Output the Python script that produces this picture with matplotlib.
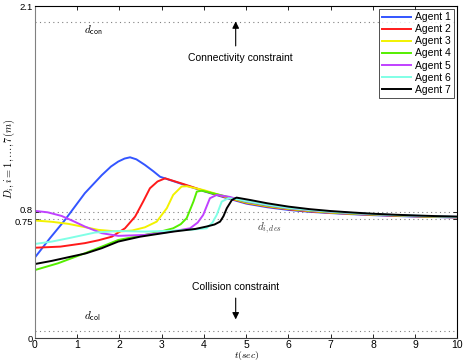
import matplotlib
matplotlib.use("Agg")
import matplotlib.pyplot as plt
import matplotlib.transforms as mtransforms

plt.rcParams['font.family'] = ['Liberation Sans', 'DejaVu Sans']
plt.rcParams['mathtext.fontset'] = 'cm'

names = ["Agent 1", "Agent 2", "Agent 3", "Agent 4", "Agent 5", "Agent 6", "Agent 7"]
colors = ["#3355ff", "#ff1a1a", "#f2f200", "#55ee00", "#c040ff", "#80ffe6", "#000000"]

t1 = [0.0, 0.35, 0.71, 1.18, 1.58, 1.8, 1.97, 2.12, 2.25, 2.4, 2.6, 2.8, 2.96, 3.5, 4.0, 4.5,
      5.0, 5.5, 6.0, 6.5, 7.0, 7.5, 8.0, 8.5, 9.0, 9.5, 10.0]
y1 = [0.51, 0.63, 0.747, 0.916, 1.03, 1.085, 1.116, 1.135, 1.143, 1.13, 1.095, 1.055, 1.02, 0.972, 0.928, 0.888,
      0.850, 0.827, 0.810, 0.798, 0.790, 0.783, 0.777, 0.772, 0.768, 0.765, 0.762]

t2 = [0.0, 0.6, 1.18, 1.5, 1.82, 2.13, 2.37, 2.56, 2.72, 2.9, 3.08, 3.5, 4.0, 4.5,
      5.0, 5.5, 6.0, 6.5, 7.0, 7.5, 8.0, 8.5, 9.0, 9.5, 10.0]
y2 = [0.571, 0.578, 0.60, 0.618, 0.641, 0.694, 0.768, 0.863, 0.947, 0.99, 1.01, 0.975, 0.931, 0.891,
      0.854, 0.831, 0.814, 0.801, 0.792, 0.785, 0.779, 0.774, 0.770, 0.766, 0.763]

t3 = [0.0, 0.4, 0.79, 1.5, 1.97, 2.3, 2.6, 2.88, 3.12, 3.27, 3.47, 3.59, 4.0, 4.5,
      5.0, 5.5, 6.0, 6.5, 7.0, 7.5, 8.0, 8.5, 9.0, 9.5, 10.0]
y3 = [0.743, 0.735, 0.722, 0.684, 0.673, 0.68, 0.70, 0.736, 0.821, 0.905, 0.958, 0.96, 0.935, 0.894,
      0.857, 0.834, 0.817, 0.804, 0.794, 0.787, 0.781, 0.776, 0.771, 0.767, 0.764]

t4 = [0.0, 0.55, 1.18, 1.6, 1.97, 2.6, 3.0, 3.27, 3.45, 3.59, 3.75, 3.83, 3.95, 4.5,
      5.0, 5.5, 6.0, 6.5, 7.0, 7.5, 8.0, 8.5, 9.0, 9.5, 10.0]
y4 = [0.43, 0.473, 0.536, 0.58, 0.62, 0.652, 0.675, 0.694, 0.72, 0.758, 0.863, 0.926, 0.932, 0.897,
      0.860, 0.837, 0.819, 0.806, 0.796, 0.788, 0.782, 0.777, 0.772, 0.768, 0.765]

t5 = [0.0, 0.3, 0.63, 0.9, 1.18, 1.58, 1.97, 2.6, 3.2, 3.67, 3.85, 3.98, 4.14, 4.3, 4.6,
      5.0, 5.5, 6.0, 6.5, 7.0, 7.5, 8.0, 8.5, 9.0, 9.5, 10.0]
y5 = [0.804, 0.795, 0.772, 0.74, 0.705, 0.663, 0.646, 0.652, 0.672, 0.694, 0.73, 0.778, 0.884, 0.905, 0.893,
      0.863, 0.840, 0.821, 0.808, 0.798, 0.790, 0.783, 0.778, 0.773, 0.769, 0.766]

t6 = [0.0, 0.4, 0.79, 1.42, 1.97, 2.6, 3.2, 3.7, 4.06, 4.2, 4.3, 4.42, 4.58, 4.8,
      5.0, 5.5, 6.0, 6.5, 7.0, 7.5, 8.0, 8.5, 9.0, 9.5, 10.0]
y6 = [0.595, 0.61, 0.631, 0.667, 0.677, 0.673, 0.678, 0.685, 0.694, 0.73, 0.778, 0.863, 0.884, 0.878,
      0.866, 0.843, 0.823, 0.810, 0.799, 0.791, 0.784, 0.778, 0.774, 0.770, 0.766]

t7 = [0.0, 0.4, 0.79, 1.2, 1.58, 1.97, 2.49, 3.27, 3.8, 4.06, 4.25, 4.38, 4.46, 4.54, 4.66, 4.77, 5.09,
      5.5, 6.0, 6.5, 7.0, 7.5, 8.0, 8.5, 9.0, 9.5, 10.0]
y7 = [0.468, 0.488, 0.511, 0.535, 0.568, 0.61, 0.641, 0.673, 0.69, 0.705, 0.718, 0.736, 0.77, 0.821, 0.873, 0.888, 0.873,
      0.852, 0.831, 0.815, 0.803, 0.794, 0.786, 0.780, 0.775, 0.771, 0.768]

series_t = [t1, t2, t3, t4, t5, t6, t7]
series_y = [y1, y2, y3, y4, y5, y6, y7]

x_ticks = list(range(0, 11))
y_ticks = [0, 0.75, 0.8, 2.1]
y_tick_labels = ["0", "0.75", "0.8", "2.1"]
d_con = 2.0
d_col = 0.045
d_des_hi = 0.8
d_des_lo = 0.75

fig = plt.figure(figsize=(4.64, 3.63), dpi=100)
ax = fig.add_axes([35 / 464, 25 / 363, 422.5 / 464, 332 / 363])

for tt, yy, c, n in zip(series_t, series_y, colors, names):
    ax.plot(tt, yy, color=c, lw=1.4, label=n)

for yv in [d_con, d_col, d_des_hi, d_des_lo]:
    ax.axhline(yv, color="#808080", lw=0.8, ls=(0, (1, 3)), zorder=0)

ax.set_xlim(0, 10)
ax.set_ylim(0, 2.1)
ax.set_xticks(x_ticks)
ax.set_yticks(y_ticks)
ax.set_yticklabels(y_tick_labels)
ax.tick_params(direction="in", top=True, right=True, labelsize=7.5, length=3, width=0.6, pad=1.5)
ax.tick_params(axis="y", labelsize=6.8)
for s in ax.spines.values():
    s.set_linewidth(0.8)
ax.spines["left"].set_color("#808080")
ax.spines["bottom"].set_color("#404040")

# nudge the two crowded labels apart slightly
ylabels = ax.get_yticklabels()
ylabels[1].set_transform(ylabels[1].get_transform() +
                         mtransforms.ScaledTranslation(0, -1.2 / 72, fig.dpi_scale_trans))
ylabels[2].set_transform(ylabels[2].get_transform() +
                         mtransforms.ScaledTranslation(0, 1.2 / 72, fig.dpi_scale_trans))

ax.text(1.15, 1.93, r"$d_{\mathsf{con}}$", fontsize=8)
ax.text(1.15, 0.12, r"$d_{\mathsf{col}}$", fontsize=8)
ax.text(5.25, 0.68, r"$d_{i,des}$", fontsize=8, color="#404040")

ax.annotate("", xy=(4.75, 2.02), xytext=(4.75, 1.83),
            arrowprops=dict(arrowstyle="-|>", color="black", lw=0.8, mutation_scale=10))
ax.text(4.85, 1.77, "Connectivity constraint", fontsize=7.5, ha="center", va="center")
ax.annotate("", xy=(4.75, 0.1), xytext=(4.75, 0.27),
            arrowprops=dict(arrowstyle="-|>", color="black", lw=0.8, mutation_scale=10))
ax.text(4.75, 0.32, "Collision constraint", fontsize=7.5, ha="center", va="center")

ax.set_xlabel(r"$t(sec)$", fontsize=7, labelpad=0)
ax.xaxis.set_label_coords(0.5, -0.032)
ax.set_ylabel(r"$D_i, i=1,\ldots,7(m)$", fontsize=7.5)
ax.yaxis.set_label_coords(-0.043, 0.54)

leg = ax.legend(loc="upper right", fontsize=7.5, frameon=True, fancybox=False,
                edgecolor="black", handlelength=2.8, handletextpad=0.4,
                borderpad=0.3, labelspacing=0.2, borderaxespad=0.3)
leg.get_frame().set_linewidth(0.6)

fig.savefig("out.png", dpi=100)
